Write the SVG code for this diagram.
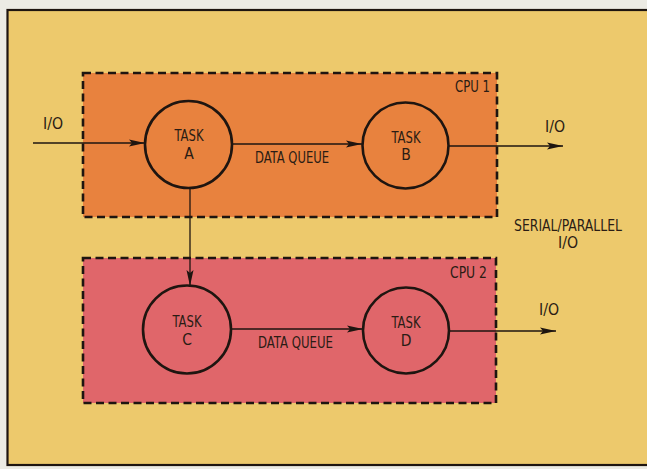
<svg xmlns="http://www.w3.org/2000/svg" width="647" height="469" viewBox="0 0 647 469">
<style>
.cpu{stroke:#1e1510;stroke-width:2.6;stroke-dasharray:8 4.5}
.task{fill:none;stroke:#1e1510;stroke-width:2.6}
.t{font-family:"DejaVu Sans Condensed","DejaVu Sans",sans-serif;font-size:15.5px;fill:#2a1c14;text-anchor:middle}
.c{stroke:#1e1510;stroke-width:1.3;fill:none;marker-end:url(#ah)}
</style>
<defs>
<marker id="ah" viewBox="0 0 16 8" refX="16" refY="4" markerWidth="16" markerHeight="8" markerUnits="userSpaceOnUse" orient="auto">
<path d="M0,0.5 L16,4 L0,7.5 L3,4 Z" fill="#1e1510"/>
</marker>
</defs>
<rect x="0" y="0" width="647" height="469" fill="#ecebe4"/>
<rect x="7.5" y="10" width="645" height="455" fill="#edc96c" stroke="#1e1510" stroke-width="2.2"/>
<g id="cpu1">
<rect class="cpu" x="83" y="73" width="414" height="144" fill="#e8823e"/>
<text class="t" x="472.5" y="92" textLength="35" lengthAdjust="spacingAndGlyphs">CPU 1</text>
</g>
<g id="cpu2">
<rect class="cpu" x="83" y="258" width="413" height="145" fill="#e0666a"/>
<text class="t" x="468.5" y="278" textLength="37" lengthAdjust="spacingAndGlyphs">CPU 2</text>
</g>
<g id="connectors">
<line class="c" x1="33" y1="143" x2="145" y2="143"/>
<line class="c" x1="232" y1="144" x2="362" y2="144"/>
<line class="c" x1="449" y1="146" x2="563" y2="146"/>
<line class="c" x1="190" y1="188" x2="190" y2="286"/>
<line class="c" x1="231" y1="329" x2="363" y2="329"/>
<line class="c" x1="449" y1="331" x2="556" y2="331"/>
</g>
<g id="taskA">
<circle class="task" cx="188.5" cy="144.5" r="43.5"/>
<text class="t" x="189" y="141" textLength="29" lengthAdjust="spacingAndGlyphs">TASK</text>
<text class="t" x="189" y="159">A</text>
</g>
<g id="taskB">
<circle class="task" cx="405.5" cy="145.5" r="43"/>
<text class="t" x="406" y="143" textLength="29" lengthAdjust="spacingAndGlyphs">TASK</text>
<text class="t" x="406" y="160">B</text>
</g>
<g id="taskC">
<circle class="task" cx="187" cy="329.5" r="44"/>
<text class="t" x="187" y="327" textLength="29" lengthAdjust="spacingAndGlyphs">TASK</text>
<text class="t" x="187" y="345">C</text>
</g>
<g id="taskD">
<circle class="task" cx="406" cy="330.5" r="43"/>
<text class="t" x="406" y="328" textLength="29" lengthAdjust="spacingAndGlyphs">TASK</text>
<text class="t" x="406" y="346">D</text>
</g>
<g id="labels">
<text class="t" x="53" y="129" textLength="20" lengthAdjust="spacingAndGlyphs">I/O</text>
<text class="t" x="292" y="163" textLength="74" lengthAdjust="spacingAndGlyphs">DATA QUEUE</text>
<text class="t" x="555" y="132" textLength="20" lengthAdjust="spacingAndGlyphs">I/O</text>
<text class="t" x="568" y="231" textLength="108" lengthAdjust="spacingAndGlyphs">SERIAL/PARALLEL</text>
<text class="t" x="568" y="248" textLength="20" lengthAdjust="spacingAndGlyphs">I/O</text>
<text class="t" x="295.5" y="348" textLength="75" lengthAdjust="spacingAndGlyphs">DATA QUEUE</text>
<text class="t" x="549" y="315" textLength="20" lengthAdjust="spacingAndGlyphs">I/O</text>
</g>
</svg>
